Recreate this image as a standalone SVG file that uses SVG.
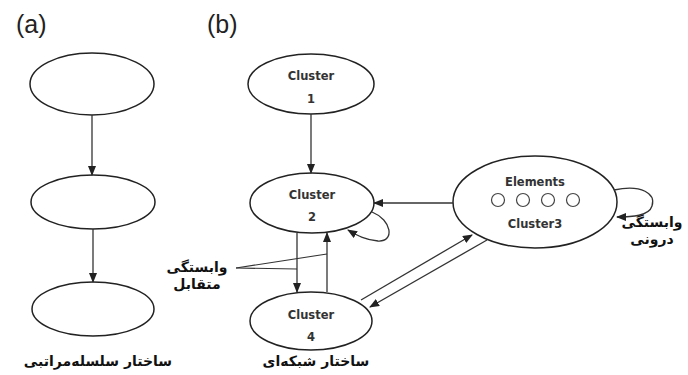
<svg xmlns="http://www.w3.org/2000/svg" width="688" height="375" viewBox="0 0 688 375">
<defs>
<marker id="ah" markerWidth="10" markerHeight="8" refX="9" refY="4" orient="auto" markerUnits="userSpaceOnUse">
<path d="M0,0 L10,4 L0,8 Z" fill="#222"/>
</marker>
<style>
.node ellipse{fill:#fff;stroke:#222;stroke-width:1.5}
.edge{fill:none;stroke:#333;stroke-width:1.3}
.lead{fill:none;stroke:#333;stroke-width:1.1}
.lbl{font-family:"DejaVu Sans",Verdana,sans-serif;font-size:11.5px;font-weight:bold;fill:#333;text-anchor:middle}
.fa{font-family:"DejaVu Sans","Noto Sans",sans-serif;font-size:14px;font-weight:bold;fill:#111;text-anchor:middle}
.pl{font-family:"Liberation Sans",Arial,sans-serif;font-size:25px;fill:#222}
.dot{fill:#fff;stroke:#444;stroke-width:1.2}
</style>
</defs>
<rect width="688" height="375" fill="#fff"/>
<text class="pl" x="16" y="33">(a)</text>
<text class="pl" x="207" y="33">(b)</text>

<g id="a1" class="node"><ellipse cx="92" cy="84" rx="62" ry="31"/></g>
<g id="a2" class="node"><ellipse cx="93" cy="202" rx="62" ry="27"/></g>
<g id="a3" class="node"><ellipse cx="93" cy="309" rx="61" ry="27"/></g>

<g id="c1" class="node"><ellipse cx="311" cy="84" rx="63" ry="30"/>
<text class="lbl" x="311" y="80">Cluster</text><text class="lbl" x="311" y="103">1</text></g>
<g id="c2" class="node"><ellipse cx="312" cy="203" rx="62" ry="30"/>
<text class="lbl" x="312" y="199">Cluster</text><text class="lbl" x="312" y="221">2</text></g>
<g id="c4" class="node"><ellipse cx="311" cy="321" rx="61" ry="29"/>
<text class="lbl" x="311" y="319">Cluster</text><text class="lbl" x="311" y="341">4</text></g>
<g id="c3" class="node"><ellipse cx="535" cy="202" rx="82" ry="46"/>
<text class="lbl" x="535" y="186">Elements</text>
<circle class="dot" cx="498" cy="200" r="6.5"/><circle class="dot" cx="523" cy="200" r="6.5"/><circle class="dot" cx="548" cy="200" r="6.5"/><circle class="dot" cx="573" cy="200" r="6.5"/>
<text class="lbl" x="535" y="228">Cluster3</text></g>

<g id="connectors">
<line class="edge" x1="92" y1="115" x2="92" y2="175" marker-end="url(#ah)"/>
<line class="edge" x1="93" y1="229" x2="93" y2="282" marker-end="url(#ah)"/>
<line class="edge" x1="311" y1="114" x2="311" y2="173" marker-end="url(#ah)"/>
<line class="edge" x1="453" y1="203" x2="374" y2="203" stroke="#777" marker-end="url(#ah)"/>
<path class="edge" d="M372,212 C392,220 395,242 378,241 C366,240 358,236 348,230" marker-end="url(#ah)"/>
<line class="edge" x1="297" y1="233" x2="297" y2="292" marker-end="url(#ah)"/>
<line class="edge" x1="327" y1="292" x2="327" y2="233" marker-end="url(#ah)"/>
<line class="edge" x1="361" y1="300" x2="472" y2="235" marker-end="url(#ah)"/>
<line class="edge" x1="487" y1="240" x2="370" y2="307" marker-end="url(#ah)"/>
<path class="edge" d="M614,190 C642,184 656,194 652,206 C649,216 632,217 617,217" marker-end="url(#ah)"/>
<line class="lead" x1="236" y1="268" x2="297" y2="269"/>
<line class="lead" x1="236" y1="268" x2="327" y2="254"/>
</g>

<text class="fa" x="197" y="272">وابستگی</text>
<text class="fa" x="197" y="289">متقابل</text>
<text class="fa" x="652" y="227">وابستگی</text>
<text class="fa" x="652" y="244">درونی</text>
<text class="fa" x="98" y="366">ساختار سلسله‌مراتبی</text>
<text class="fa" x="316" y="366">ساختار شبکه‌ای</text>
</svg>
